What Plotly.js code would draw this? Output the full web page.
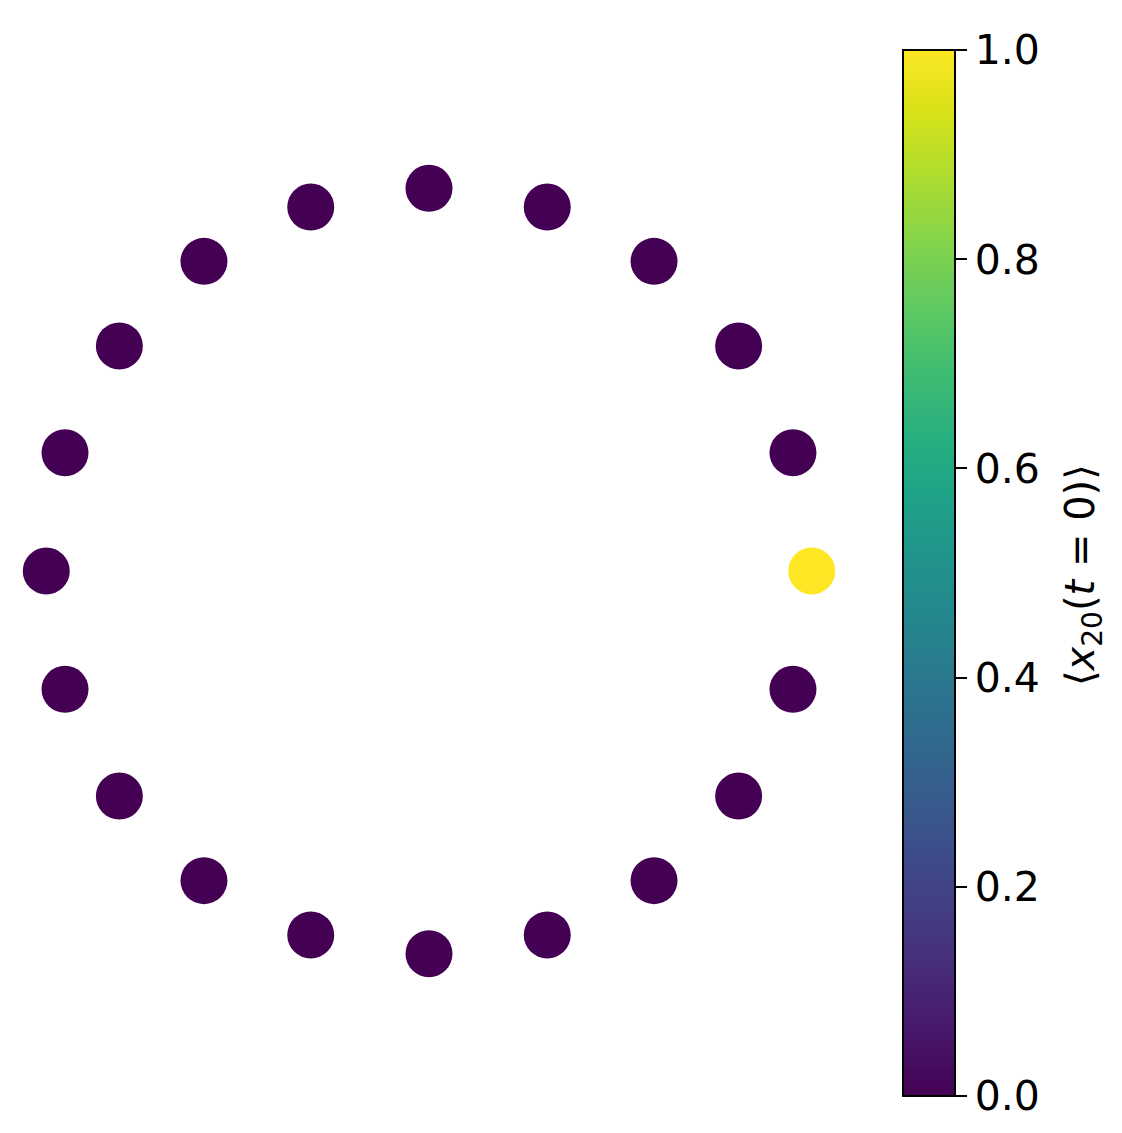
<!DOCTYPE html>
<html>
<head>
<meta charset="utf-8">
<script src="https://cdn.plot.ly/plotly-3.0.1.min.js"></script>
<style>
  html, body { margin: 0; padding: 0; background: #fff; }
  #plot { width: 1122px; height: 1133px; }
</style>
</head>
<body>
<div id="plot"></div>
<script>
// node positions on the ring (20 nodes, 18 degree step)
const node_x = [1, 0.951, 0.809, 0.588, 0.309, 0, -0.309, -0.588, -0.809, -0.951,
                -1, -0.951, -0.809, -0.588, -0.309, 0, 0.309, 0.588, 0.809, 0.951]
const node_y = [0, 0.309, 0.588, 0.809, 0.951, 1, 0.951, 0.809, 0.588, 0.309,
                0, -0.309, -0.588, -0.809, -0.951, -1, -0.951, -0.809, -0.588, -0.309]
// initial occupation <x_20(t=0)>
const node_values = [1, 0, 0, 0, 0, 0, 0, 0, 0, 0, 0, 0, 0, 0, 0, 0, 0, 0, 0, 0]
const tick_values = [0, 0.2, 0.4, 0.6, 0.8, 1.0]
const tick_labels = ["0.0", "0.2", "0.4", "0.6", "0.8", "1.0"]
const colorbar_title = "⟨<i>x</i><sub>20</sub>(<i>t</i> = 0)⟩"

const font_family = "DejaVu Sans, sans-serif"

// plot area in pixels: left 8, top 150, size 842 x 842
const plot_left = 8
const plot_w = 842
const plot_bottom = 992

let data = [{
    type: "scatter",
    mode: "markers",
    x: node_x,
    y: node_y,
    hoverinfo: "none",
    showlegend: false,
    marker: {
        size: 47,
        color: node_values,
        cmin: 0,
        cmax: 1,
        colorscale: "Viridis",
        line: { width: 0 },
        showscale: true,
        colorbar: {
            x: (903 - plot_left) / plot_w, xanchor: "left", xpad: 0,
            y: (plot_bottom - 573) / plot_w, yanchor: "middle", ypad: 0,
            lenmode: "fraction", len: 1046 / plot_w,
            thicknessmode: "pixels", thickness: 52,
            outlinewidth: 2, outlinecolor: "#000",
            ticks: "outside", ticklen: 11, tickwidth: 2, tickcolor: "#000",
            tickvals: tick_values, ticktext: tick_labels,
            tickfont: { family: font_family, size: 41, color: "#000" }
        }
    }
}]

let layout = {
    width: 1122,
    height: 1133,
    margin: { l: 8, r: 272, t: 150, b: 141 },
    paper_bgcolor: "#fff",
    plot_bgcolor: "#fff",
    xaxis: { range: [-1.1, 1.1], visible: false, fixedrange: true },
    yaxis: { range: [-1.1, 1.1], visible: false, fixedrange: true },
    showlegend: false,
    // colorbar label, placed by hand to sit like the matplotlib one
    annotations: [{
        text: colorbar_title,
        xref: "paper", yref: "paper",
        x: (1083 - plot_left) / plot_w, y: (plot_bottom - 575) / plot_w,
        xanchor: "center", yanchor: "middle",
        textangle: -90,
        showarrow: false,
        font: { family: font_family, size: 40, color: "#000" }
    }]
}

Plotly.newPlot(document.getElementById("plot"), data, layout, { displayModeBar: false, staticPlot: true })
</script>
</body>
</html>
